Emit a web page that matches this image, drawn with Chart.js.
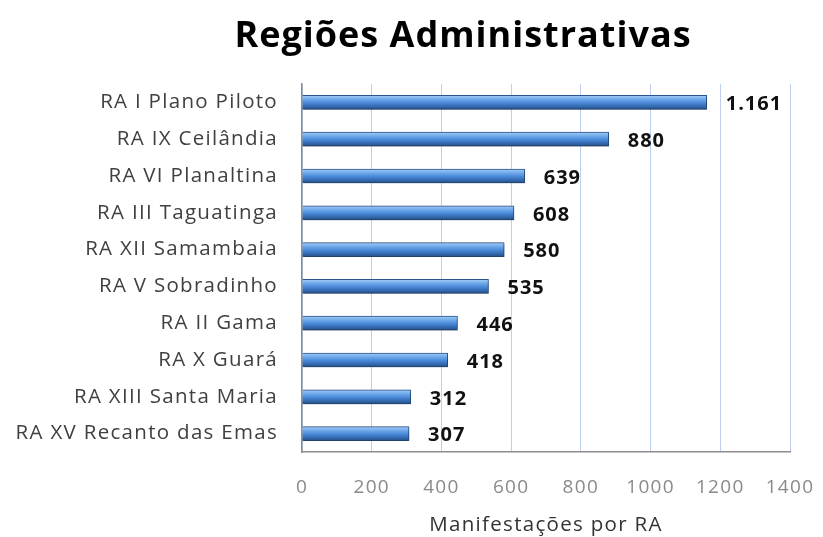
<!DOCTYPE html>
<html>
<head>
<meta charset="utf-8">
<script src="https://cdn.jsdelivr.net/npm/chart.js@4.4.0/dist/chart.umd.min.js"></script>
<style>
  html, body { margin: 0; padding: 0; background: #fff; }
  #wrap { width: 823px; height: 537px; }
</style>
</head>
<body>
<div id="wrap"><canvas id="chart"></canvas></div>
<script>
var regioes = [
  'RA I Plano Piloto', 'RA IX Ceilândia', 'RA VI Planaltina', 'RA III Taguatinga',
  'RA XII Samambaia', 'RA V Sobradinho', 'RA II Gama', 'RA X Guará',
  'RA XIII Santa Maria', 'RA XV Recanto das Emas'
];
var manifestacoes = [1161, 880, 639, 608, 580, 535, 446, 418, 312, 307];
var xTicks = [0, 200, 400, 600, 800, 1000, 1200, 1400];

var titulo = 'Regiões Administrativas';
var FONT = '"Open Sans", sans-serif';

// espacamento de letras parecido com o Calibri do original
var espacamento = {
  id: 'espacamento',
  beforeDraw: function(chart) {
    chart.ctx.save();
    chart.ctx.letterSpacing = '1.3px';
  },
  afterDraw: function(chart) {
    chart.ctx.restore();
  }
};

// titulo desenhado a mao para ficar na mesma posicao do original
var titlePlugin = {
  id: 'tituloFixo',
  afterDraw: function(chart) {
    var ctx = chart.ctx;
    ctx.save();
    ctx.letterSpacing = '1px';
    ctx.font = 'bold 36px ' + FONT;
    ctx.fillStyle = '#000';
    ctx.textAlign = 'center';
    ctx.textBaseline = 'alphabetic';
    ctx.fillText(titulo, 463, 47);
    ctx.restore();
  }
};

var sombra = {
  id: 'sombra',
  beforeDatasetsDraw: function(chart) {
    var ctx = chart.ctx;
    ctx.save();
    ctx.shadowColor = 'rgba(0,0,0,0.35)';
    ctx.shadowBlur = 4;
    ctx.shadowOffsetX = 1;
    ctx.shadowOffsetY = 2;
  },
  afterDatasetsDraw: function(chart) {
    chart.ctx.restore();
  }
};

var rotulos = {
  id: 'rotulos',
  afterDatasetsDraw: function(chart) {
    var ctx = chart.ctx;
    var meta = chart.getDatasetMeta(0);
    ctx.save();
    ctx.letterSpacing = '1px';
    ctx.font = 'bold 20px ' + FONT;
    ctx.fillStyle = '#111';
    ctx.textAlign = 'left';
    ctx.textBaseline = 'middle';
    meta.data.forEach(function(bar, i) {
      var txt = manifestacoes[i].toLocaleString('pt-BR');
      ctx.fillText(txt, bar.x + 19, bar.y + 2);
    });
    ctx.restore();
  }
};

function gradiente(context) {
  var chart = context.chart;
  var ys = chart.scales && chart.scales.y;
  if (!chart.chartArea || !ys) return '#4a86d0';
  var y = ys.getPixelForValue(context.dataIndex);
  if (!isFinite(y)) return '#4a86d0';
  var g = chart.ctx.createLinearGradient(0, y - 7, 0, y + 7);
  g.addColorStop(0, '#a6ccf5');
  g.addColorStop(0.3, '#6aa6ea');
  g.addColorStop(0.6, '#4281cf');
  g.addColorStop(1, '#254f8a');
  return g;
}

new Chart(document.getElementById('chart'), {
  type: 'bar',
  data: {
    labels: regioes,
    datasets: [{
      label: 'Manifestações por RA',
      data: manifestacoes,
      backgroundColor: gradiente,
      borderColor: '#2b5894',
      borderWidth: 1,
      barThickness: 14
    }]
  },
  plugins: [espacamento, titlePlugin, sombra, rotulos],
  options: {
    indexAxis: 'y',
    responsive: true,
    maintainAspectRatio: false,
    animation: false,
    layout: { padding: { top: 84, right: 33, left: 0, bottom: 0 } },
    plugins: {
      legend: { display: false },
      title: { display: false },
      tooltip: { enabled: false }
    },
    scales: {
      x: {
        min: 0,
        max: 1400,
        afterBuildTicks: function(scale) {
          scale.ticks = xTicks.map(function(v) { return { value: v }; });
        },
        grid: { color: '#bdd0ee', drawTicks: true, tickLength: 20, tickColor: 'rgba(0,0,0,0)' },
        border: { color: '#8c8c8c', width: 1.5 },
        ticks: {
          padding: 4,
          color: '#8a8a8a',
          font: { family: FONT, size: 19 },
          callback: function(v) { return String(v); }
        },
        title: {
          display: true,
          text: 'Manifestações por RA',
          color: '#333',
          font: { family: FONT, size: 20.5 },
          padding: { top: 10, bottom: 0 }
        },
        afterFit: function(scale) { scale.height = 85; }
      },
      y: {
        grid: { display: false, drawTicks: false },
        border: { color: '#8c8c8c', width: 1.5 },
        ticks: {
          padding: 24,
          color: '#404040',
          font: { family: FONT, size: 20.5 }
        },
        afterFit: function(scale) { scale.width = 302; }
      }
    }
  }
});
</script>
</body>
</html>
